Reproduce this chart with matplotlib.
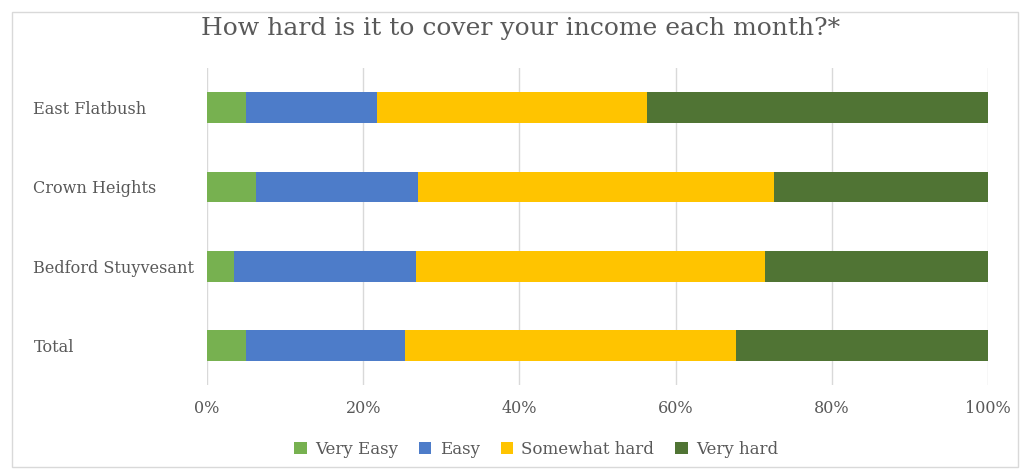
import numpy as np
import matplotlib
matplotlib.use("Agg")
import matplotlib.pyplot as plt
from matplotlib.patches import Rectangle

# Datos (porcentajes)
barrios = ["East Flatbush", "Crown Heights", "Bedford Stuyvesant", "Total"]
muy_facil = [5.0, 6.3, 3.5, 5.0]
facil = [16.8, 20.7, 23.2, 20.4]
algo_dificil = [34.5, 45.6, 44.8, 42.3]
muy_dificil = [43.7, 27.4, 28.5, 32.3]

series = ["Very Easy", "Easy", "Somewhat hard", "Very hard"]
colores = ["#77B150", "#4D7CC9", "#FFC400", "#507434"]
ticks = [0, 20, 40, 60, 80, 100]

plt.rcParams['font.family'] = ['DejaVu Serif']
gris = "#595959"

fig = plt.figure(figsize=(10.27, 4.73), dpi=100)
ax = fig.add_axes([0.2016, 0.186, 0.7605, 0.670])

# borde del área del gráfico
fig.patches.append(Rectangle((0.012, 0.012), 0.979, 0.963, transform=fig.transFigure,
                             fill=False, edgecolor="#D9D9D9", linewidth=1))

y = np.arange(len(barrios))
izq = np.zeros(len(barrios))
for nombre, vals, c in zip(series, [muy_facil, facil, algo_dificil, muy_dificil], colores):
    ax.barh(y, vals, left=izq, height=0.39, color=c, label=nombre, zorder=3)
    izq = izq + np.array(vals)

ax.set_ylim(len(barrios) - 0.5, -0.5)
ax.set_xlim(0, 100)
ax.set_yticks(y)
ax.set_yticklabels(barrios, fontsize=11.6, color=gris)
for lbl in ax.get_yticklabels():
    lbl.set_ha('left')
ax.set_xticks(ticks)
ax.set_xticklabels([f"{t}%" for t in ticks], fontsize=11.5, color=gris)
ax.tick_params(length=0)
ax.tick_params(axis='y', pad=125)
ax.tick_params(axis='x', pad=11)
ax.grid(axis='x', color="#D9D9D9", linewidth=1, zorder=0)
for s in ax.spines.values():
    s.set_visible(False)

fig.text(0.507, 0.94, "How hard is it to cover your income each month?*",
         ha='center', va='center', fontsize=18, color=gris)

fig.legend(loc='center', bbox_to_anchor=(0.522, 0.05), ncol=4, frameon=False,
           fontsize=12, handlelength=0.75, handleheight=0.75, handletextpad=0.5,
           columnspacing=1.25, labelcolor=gris)

plt.savefig("out.png")
plt.close()
